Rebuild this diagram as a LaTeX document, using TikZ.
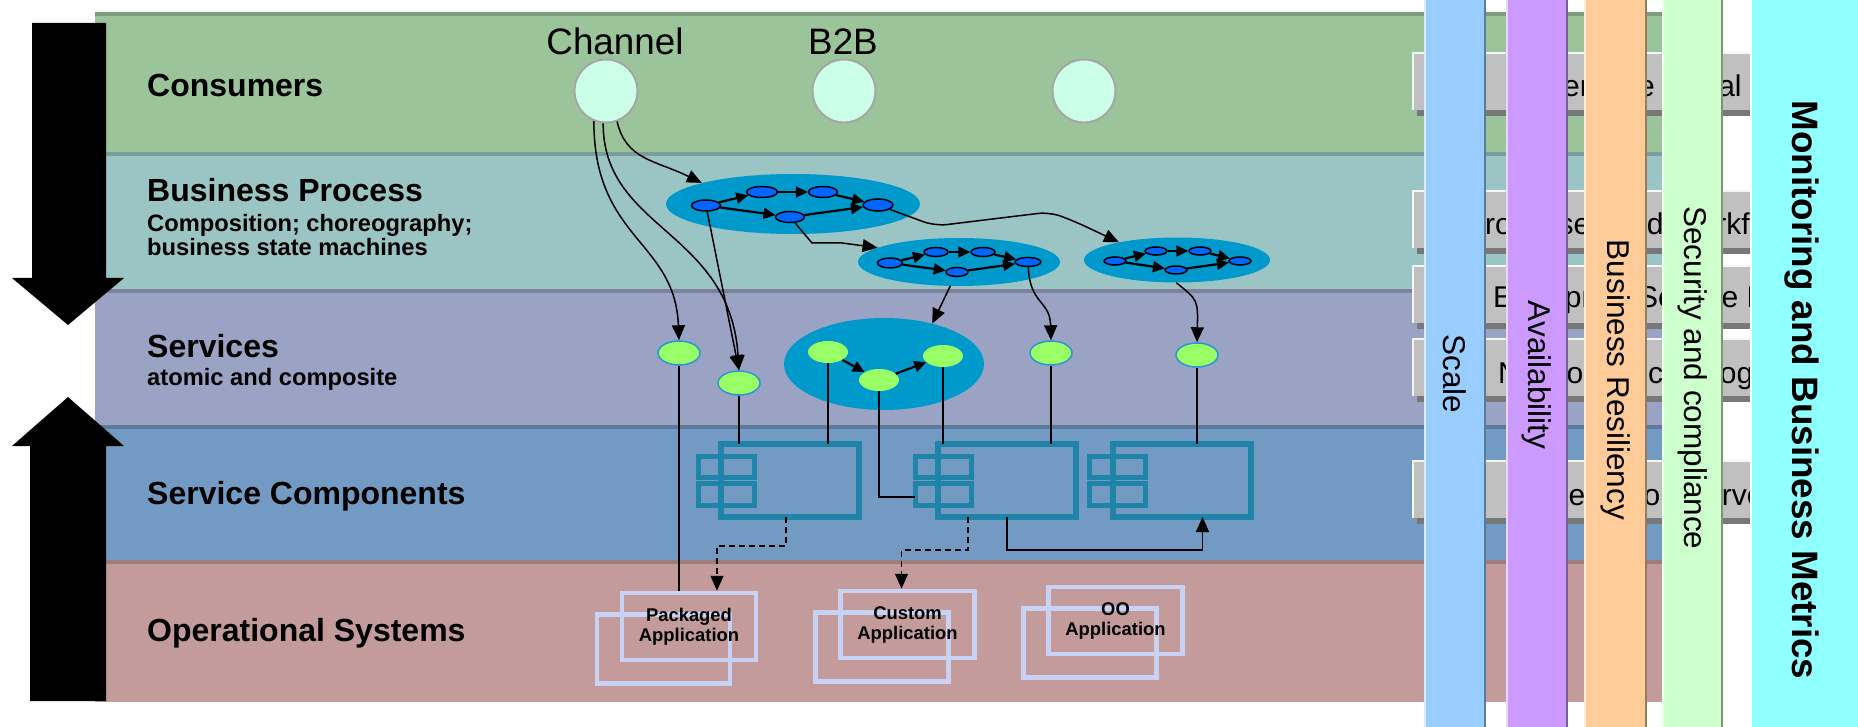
\documentclass[tikz,border=0pt]{standalone}
\usepackage{fontspec}
\setmainfont{Liberation Sans}
\usetikzlibrary{shapes.geometric,arrows.meta,calc}
\definecolor{consc}{RGB}{155,196,155}
\definecolor{bpc}{RGB}{155,196,196}
\definecolor{svc}{RGB}{155,163,196}
\definecolor{scc}{RGB}{115,154,195}
\definecolor{osc}{RGB}{196,155,155}
\definecolor{flowc}{RGB}{0,153,204}
\definecolor{stepc}{RGB}{0,102,255}
\definecolor{srvc}{RGB}{153,255,102}
\definecolor{srvline}{RGB}{40,150,210}
\definecolor{compc}{RGB}{32,132,168}
\definecolor{appc}{RGB}{200,210,245}
\definecolor{chc}{RGB}{204,255,232}
\definecolor{boxc}{RGB}{192,192,192}
\definecolor{shadc}{RGB}{120,120,120}
\definecolor{scalec}{RGB}{153,204,255}
\definecolor{availc}{RGB}{204,153,255}
\definecolor{resilc}{RGB}{255,204,153}
\definecolor{securc}{RGB}{204,255,204}
\definecolor{monic}{RGB}{143,255,255}

\begin{document}
\begin{tikzpicture}[x=1pt,y=-1pt,
  lab/.style={inner sep=0,anchor=base west,font=\fontsize{32}{38}\selectfont\bfseries},
  sublab/.style={inner sep=0,anchor=base west,font=\fontsize{23.7}{24}\selectfont\bfseries},
  toptext/.style={inner sep=0,anchor=base,font=\fontsize{36.8}{40}\selectfont},
  chan/.style={circle,draw=gray!70,line width=2pt,fill=chc,minimum size=63pt,inner sep=0},
  flow/.style={ellipse,fill=flowc,inner sep=0},
  stepnode/.style={ellipse,draw,line width=1.5pt,fill=stepc,minimum width=29pt,minimum height=11pt,inner sep=0},
  smallstep/.style={stepnode,minimum width=24pt,minimum height=9pt},
  steparrow/.style={line width=2.2pt,-{Triangle[length=12pt,width=11pt]}},
  srv/.style={ellipse,draw=srvline,line width=1.5pt,fill=srvc,minimum width=42pt,minimum height=24pt,inner sep=0},
  innersrv/.style={ellipse,fill=srvc,minimum width=40pt,minimum height=22pt,inner sep=0},
  comp/.style={draw=compc,line width=6pt,minimum width=138pt,minimum height=73pt,outer sep=0,inner sep=0},
  compline/.style={draw=compc,line width=5pt},
  app/.style={draw=appc,line width=4.5pt,minimum width=134pt,minimum height=67pt,align=center,inner sep=0,font=\fontsize{18.4}{20}\selectfont\bfseries},
  appbox/.style={draw=appc,line width=4.5pt},
  conn/.style={line width=1.5pt,-{Triangle[length=15pt,width=13pt]}},
  dconn/.style={conn,dash pattern=on 6pt off 4pt},
  wire/.style={line width=1.5pt},
  boxtext/.style={inner sep=0,anchor=base west,font=\fontsize{30}{34}\selectfont},
  bartext/.style={inner sep=0,rotate=-90,font=\fontsize{31.5}{36}\selectfont},
  montext/.style={inner sep=0,rotate=-90,font=\fontsize{36.8}{40}\selectfont\bfseries}]
\useasboundingbox (0,0) rectangle (1858,727);

\foreach \ty/\by/\cl in {12/152/consc, 152/289/bpc, 289/425/svc, 425/560/scc, 560/702/osc}{
  \fill[\cl] (95,\ty) rectangle (1700,\by);
  \fill[\cl!80!black] (95,\ty) rectangle (1700,\ty+4);
}

\foreach \nm/\ty/\by/\sx/\txt in {g1/52/97/1518/Enterprise Portal, g2/190/235/1465/Processes and Workflow, g3/265/308/1493/Enterprise Service Bus, g4/338/383/1498/Network Technology, g5/460/505/1535/Integration Server}{
  \fill[shadc] (1417,\ty+6) rectangle (1846,\ty+64);
  \fill[boxc] (1412,\ty) rectangle (1842,\ty+58);
  \draw[white!85!boxc, line width=2pt] (1413,\ty+58) -- (1413,\ty+1) -- (1842,\ty+1);
  \node[boxtext] (\nm) at (\sx,\by) {\txt};
}

\fill (32,23) -- (106,23) -- (106,278) -- (124,278) -- (68,325) -- (12,278) -- (32,278) -- cycle;
\fill (30,701) -- (106,701) -- (106,446) -- (124,446) -- (68,397) -- (12,446) -- (30,446) -- cycle;

\node[lab] (lcons) at (147,97) {Consumers};
\node[lab] (lbp) at (147,202) {Business Process};
\node[sublab] (lbps) at (147,232) {Composition; choreography;};
\node[sublab] (lbpt) at (147,256) {business state machines};
\node[lab] (lsv) at (147,357) {Services};
\node[sublab] (lsvs) at (147,385) {atomic and composite};
\node[lab] (lsc) at (147,504) {Service Components};
\node[lab] (los) at (147,641) {Operational Systems};

\node[chan] (ch) at (606,91) {};
\node[chan] (bb) at (844,91) {};
\node[chan] (cx) at (1084,91) {};
\node[toptext] (lch) at (615,55) {Channel};
\node[toptext] (lbb) at (843,55) {B2B};

\node[flow,minimum width=254pt,minimum height=60pt] (bp1) at (793,204) {};
\node[stepnode] (n1) at (706,205.5) {};
\node[stepnode,minimum width=31pt] (n2) at (762,192) {};
\node[stepnode] (n3) at (823,192) {};
\node[stepnode] (n4) at (790,217) {};
\node[stepnode,minimum width=30pt,minimum height=12pt] (n5) at (878,205) {};

\node[flow,minimum width=202pt,minimum height=48pt] (bp2) at (959,262) {};
\node[smallstep,minimum width=25pt,minimum height=10pt] (m1) at (890,263) {};
\node[smallstep] (m2) at (936,252) {};
\node[smallstep] (m3) at (983,252) {};
\node[smallstep,minimum width=22pt] (m4) at (957,272) {};
\node[smallstep,minimum width=26pt] (m5) at (1028,262) {};

\node[flow,minimum width=186pt,minimum height=45pt] (bp3) at (1177,260) {};
\node[smallstep,minimum width=22pt,minimum height=8pt] (p1) at (1115,261) {};
\node[smallstep,minimum width=22pt,minimum height=8pt] (p2) at (1156,251) {};
\node[smallstep,minimum width=22pt,minimum height=8pt] (p3) at (1200,251) {};
\node[smallstep,minimum width=22pt,minimum height=8pt] (p4) at (1176,270) {};
\node[smallstep,minimum width=22pt,minimum height=8pt] (p5) at (1240,261) {};

\foreach \src/\dst in {n1/n2, n2/n3, n3/n5, n1/n4, n4/n5, m1/m2, m2/m3, m3/m5, m1/m4, m4/m5, p1/p2, p2/p3, p3/p5, p1/p4, p4/p5}
  \draw[steparrow] (\src) -- (\dst);

\node[srv] (s1) at (679,353) {};
\node[srv] (s2) at (739,383) {};
\node[srv] (s3) at (1051,353) {};
\node[srv] (s4) at (1197,355) {};
\node[flow,minimum width=200pt,minimum height=92pt] (cs) at (884,364) {};
\node[innersrv] (ca) at (828,352) {};
\node[innersrv] (cb) at (879,380) {};
\node[innersrv] (cc) at (943,356) {};
\draw[steparrow] (ca) -- (cb);
\draw[steparrow] (cb) -- (cc);

\node[comp] (c1) at (790,480.5) {};
\node[comp] (c2) at (1007,480.5) {};
\node[comp] (c3) at (1181.5,480.5) {};
\foreach \nm in {c1,c2,c3}
  \draw[compline] ($(\nm.north west)+(-23,12)$) rectangle ++(56,21)
                  ($(\nm.north west)+(-23,39)$) rectangle ++(56,22);

\coordinate (pk0) at (689,626.5);
\coordinate (cu0) at (907.5,624.5);
\coordinate (oo0) at (1115.5,620.5);
\foreach \nm in {pk0,cu0,oo0}
  \draw[appbox] ($(\nm)+(-92,-12)$) rectangle ++(133,69);
\node[app] (pk) at (pk0) {Packaged\\Application};
\node[app] (cu) at (cu0) {Custom\\Application};
\node[app] (oo) at (oo0) {OO\\Application};

\draw[conn] (ch.-70) .. controls (626,160) and (655,160) .. (bp1.167);
\draw[conn] (ch.-112) .. controls (594,240) and (675,240) .. (s1.north);
\draw[conn] (ch.-95) .. controls (603,230) and (730,230) .. (s2.north);
\draw[conn] (n1) -- (s2.north);
\draw[conn] (n4) -- (812,243) -- (842,243) -- (bp2.170);
\draw[conn,rounded corners=12pt] (n5) -- (935,226) -- (1050,212) -- (1076,222) -- (bp3.163);
\draw[conn] (bp2.250) -- (cs.40);
\draw[conn] (m5) .. controls (1030,305) and (1050,300) .. (s3.north);
\draw[conn] (bp3.268) .. controls (1198,300) .. (s4.north);

\draw[wire] (s1) -- (s1 |- pk.north);
\draw[wire] (s2) -- (s2 |- c1.north);
\draw[wire] (ca) -- (ca |- c1.north);
\draw[wire] (cb) |- ($(c2.north west)+(-23,53)$);
\draw[wire] (cc) -- (cc |- c2.north);
\draw[wire] (s3) -- (s3 |- c2.north);
\draw[wire] (s4) -- (s4 |- c3.north);

\draw[dconn] ($(c1.south)+(-4,0)$) -- ++(0,29) -| ($(pk.north)+(28,0)$);
\draw[dconn] ($(c2.south)+(-39,0)$) -- ++(0,33) -| ($(cu.north)+(-6,0)$);
\draw[conn] (c2.south) -- ++(0,33) -| ($(c3.south)+(21,0)$);

\foreach \nm/\lx/\rx/\cl/\ty/\txt in {bsc/1424/1486/scalec/374/Scale, bav/1506/1568/availc/375/Availability, bre/1584/1647/resilc/380/Business Resiliency, bse/1662/1723/securc/378/Security and compliance}{
  \fill[\cl] (\lx,0) rectangle (\rx,727);
  \draw[white!60!\cl, line width=1.5pt] (\lx+0.75,0) -- (\lx+0.75,727);
  \draw[\cl!60!black, line width=2.5pt] (\rx-1.25,0) -- (\rx-1.25,727);
  \node[bartext] (\nm) at ({(\lx+\rx)/2},\ty) {\txt};
}
\fill[monic] (1750,0) rectangle (1858,727);
\draw[white, line width=2pt] (1751,0) -- (1751,727);
\node[montext] (bmo) at (1802,390) {Monitoring and Business Metrics};
\end{tikzpicture}
\end{document}
